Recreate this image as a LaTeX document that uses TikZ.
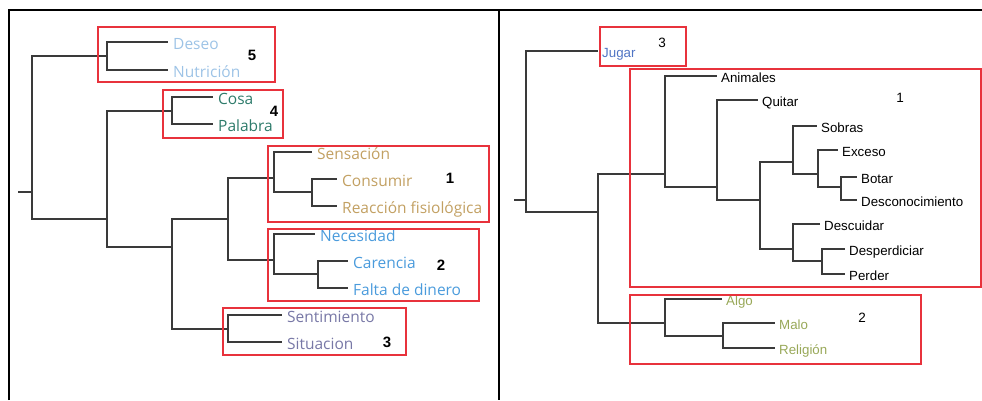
\documentclass[tikz,border=0pt]{standalone}
\usepackage{fontspec}
\usepackage{tikz}
\newfontfamily\segoe{Open Sans}
\newfontfamily\arial{Liberation Sans}

\definecolor{deseoC}{HTML}{9DC3E6}
\definecolor{cosaC}{HTML}{2E7B6B}
\definecolor{sensC}{HTML}{C2A062}
\definecolor{necC}{HTML}{4A9BDC}
\definecolor{sentC}{HTML}{7878A6}
\definecolor{jugarC}{HTML}{4F74C4}
\definecolor{algoC}{HTML}{98A858}
\definecolor{boxred}{HTML}{E8323C}
\definecolor{rama}{HTML}{3A3A3A}

\begin{document}
\begin{tikzpicture}[x=1pt, y=-1pt]
    \tikzstyle{leafL} = [anchor=west, inner sep=5pt, text height=15pt, text depth=0pt, font=\segoe\fontsize{15.5}{15.5}\selectfont]
    \tikzstyle{leafR} = [anchor=west, inner sep=4pt, text height=13.6pt, text depth=0pt, font=\arial\fontsize{13.3}{13.3}\selectfont]
    \tikzstyle{branch} = [draw=rama, line width=1.2pt]
    \tikzstyle{grupo} = [draw=boxred, line width=1.8pt]
    \tikzstyle{numL} = [font=\arial\bfseries\fontsize{15}{15}\selectfont]
    \tikzstyle{numR} = [font=\arial\fontsize{13.5}{13.5}\selectfont]

    \useasboundingbox (0,0) rectangle (982,400);

    % Frame
    \draw[line width=2pt] (9,400) -- (9,10) -- (982,10);
    \draw[line width=2pt] (499,10) -- (499,400);

    % Left tree: inner nodes
    \coordinate (stubL) at (18,192);
    \coordinate (rL) at (32,192);
    \coordinate (n5) at (107,56);
    \coordinate (nA) at (107,219);
    \coordinate (n4) at (172,111);
    \coordinate (nB) at (172,247);
    \coordinate (nC) at (228,219);
    \coordinate (n1) at (274,178);
    \coordinate (n1b) at (312,192);
    \coordinate (n2) at (274,260);
    \coordinate (n2b) at (318,274);
    \coordinate (n3) at (228,329);

    % Left tree: leaves
    \node[leafL, text=deseoC] (deseo) at (168,42) {Deseo};
    \node[leafL, text=deseoC] (nutricion) at (168,70) {Nutrición};
    \node[leafL, text=cosaC] (cosa) at (213,97) {Cosa};
    \node[leafL, text=cosaC] (palabra) at (213,124) {Palabra};
    \node[leafL, text=sensC] (sensacion) at (312,152) {Sensación};
    \node[leafL, text=sensC] (consumir) at (337,179) {Consumir};
    \node[leafL, text=sensC] (reaccion) at (337,206) {Reacción fisiológica};
    \node[leafL, text=necC] (necesidad) at (315,234) {Necesidad};
    \node[leafL, text=necC] (carencia) at (348,261) {Carencia};
    \node[leafL, text=necC] (falta) at (348,288) {Falta de dinero};
    \node[leafL, text=sentC] (sentimiento) at (282,315) {Sentimiento};
    \node[leafL, text=sentC] (situacion) at (282,342) {Situacion};

    % Left tree: branches
    \draw[branch] (stubL) -- (rL);
    \draw[branch] (rL) |- (n5);  \draw[branch] (rL) |- (nA);
    \draw[branch] (n5) |- (deseo.west);  \draw[branch] (n5) |- (nutricion.west);
    \draw[branch] (nA) |- (n4);  \draw[branch] (nA) |- (nB);
    \draw[branch] (n4) |- (cosa.west);  \draw[branch] (n4) |- (palabra.west);
    \draw[branch] (nB) |- (nC);  \draw[branch] (nB) |- (n3);
    \draw[branch] (nC) |- (n1);  \draw[branch] (nC) |- (n2);
    \draw[branch] (n1) |- (sensacion.west);  \draw[branch] (n1) |- (n1b);
    \draw[branch] (n1b) |- (consumir.west);  \draw[branch] (n1b) |- (reaccion.west);
    \draw[branch] (n2) |- (necesidad.west);  \draw[branch] (n2) |- (n2b);
    \draw[branch] (n2b) |- (carencia.west);  \draw[branch] (n2b) |- (falta.west);
    \draw[branch] (n3) |- (sentimiento.west);  \draw[branch] (n3) |- (situacion.west);

    % Left groups
    \draw[grupo] (98,27) rectangle (275,82);
    \draw[grupo] (163,90) rectangle (283,138);
    \draw[grupo] (268,146) rectangle (489,222);
    \draw[grupo] (268,229) rectangle (479,301);
    \draw[grupo] (223,308) rectangle (406,355);
    \node[numL] (g5) at (252,55) {5};
    \node[numL] (g4) at (274,111) {4};
    \node[numL] (g1) at (450,178) {1};
    \node[numL] (g2) at (441,265) {2};
    \node[numL] (g3) at (387,342) {3};

    % Right tree: inner nodes
    \coordinate (stubR) at (514,200);
    \coordinate (rR) at (526,200);
    \coordinate (nR1) at (598,212);
    \coordinate (nBig) at (665,174);
    \coordinate (nQ) at (717,187);
    \coordinate (nS) at (760,200);
    \coordinate (nSob) at (793,162);
    \coordinate (nEx) at (818,174);
    \coordinate (nBot) at (841,187);
    \coordinate (nDes) at (793,249);
    \coordinate (nDp) at (822,261);
    \coordinate (nAlgo) at (665,323);
    \coordinate (nM) at (723,336);

    % Right tree: leaves
    \node[leafR, text=jugarC] (jugar) at (598,51) {Jugar};
    \node[leafR] (animales) at (717,76) {Animales};
    \node[leafR] (quitar) at (758,100) {Quitar};
    \node[leafR] (sobras) at (817,126) {Sobras};
    \node[leafR] (exceso) at (838,150) {Exceso};
    \node[leafR] (botar) at (857,177) {Botar};
    \node[leafR] (desconoc) at (857,200) {Desconocimiento};
    \node[leafR] (descuidar) at (820,224) {Descuidar};
    \node[leafR] (desperdiciar) at (845,249) {Desperdiciar};
    \node[leafR] (perder) at (845,274) {Perder};
    \node[leafR, text=algoC] (algo) at (722,299) {Algo};
    \node[leafR, text=algoC] (malo) at (775,323) {Malo};
    \node[leafR, text=algoC] (religion) at (775,348) {Religión};

    % Right tree: branches
    \draw[branch] (stubR) -- (rR);
    \draw[branch] (rR) |- (jugar.west);  \draw[branch] (rR) |- (nR1);
    \draw[branch] (nR1) |- (nBig);  \draw[branch] (nR1) |- (nAlgo);
    \draw[branch] (nBig) |- (animales.west);  \draw[branch] (nBig) |- (nQ);
    \draw[branch] (nQ) |- (quitar.west);  \draw[branch] (nQ) |- (nS);
    \draw[branch] (nS) |- (nSob);  \draw[branch] (nS) |- (nDes);
    \draw[branch] (nSob) |- (sobras.west);  \draw[branch] (nSob) |- (nEx);
    \draw[branch] (nEx) |- (exceso.west);  \draw[branch] (nEx) |- (nBot);
    \draw[branch] (nBot) |- (botar.west);  \draw[branch] (nBot) |- (desconoc.west);
    \draw[branch] (nDes) |- (descuidar.west);  \draw[branch] (nDes) |- (nDp);
    \draw[branch] (nDp) |- (desperdiciar.west);  \draw[branch] (nDp) |- (perder.west);
    \draw[branch] (nAlgo) |- (algo.west);  \draw[branch] (nAlgo) |- (nM);
    \draw[branch] (nM) |- (malo.west);  \draw[branch] (nM) |- (religion.west);

    % Right groups
    \draw[grupo] (600,27) rectangle (686,66);
    \draw[grupo] (630,69) rectangle (981,287);
    \draw[grupo] (630,295) rectangle (921,364);
    \node[numR] (h3) at (662,43) {3};
    \node[numR] (h1) at (900,98) {1};
    \node[numR] (h2) at (862,318) {2};

\end{tikzpicture}
\end{document}
